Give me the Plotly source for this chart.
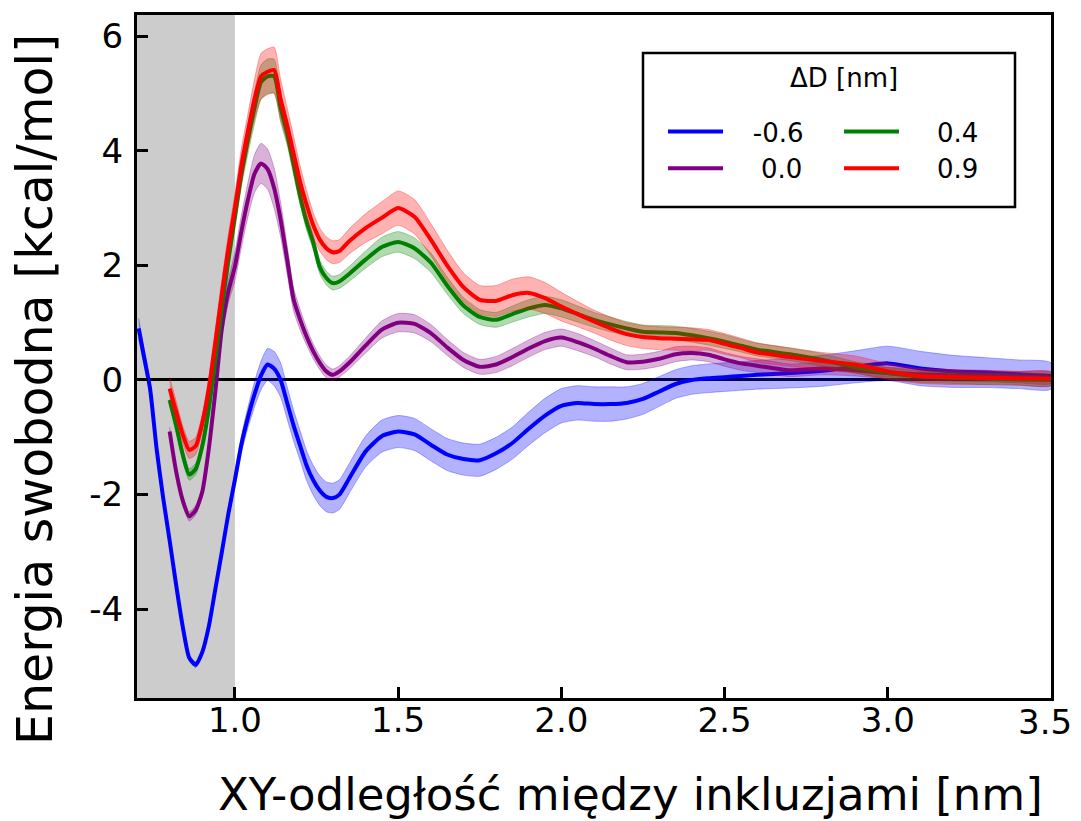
import plotly.graph_objects as go

# ---------------- data ----------------
X = [0.80, 0.82, 0.84, 0.86, 0.88, 0.90,
     0.92, 0.94, 0.96, 0.98, 1.00,
     1.02, 1.04, 1.06, 1.08, 1.10, 1.12,
     1.14, 1.16, 1.18, 1.20, 1.22, 1.24, 1.26,
     1.28, 1.30, 1.32, 1.35,
     1.40, 1.45, 1.50, 1.55, 1.60, 1.65,
     1.70, 1.75, 1.80, 1.85, 1.90, 1.95, 2.00,
     2.05, 2.10, 2.15, 2.20, 2.25, 2.30, 2.35, 2.40, 2.45, 2.50,
     2.55, 2.60, 2.70, 2.80, 2.90, 3.00, 3.10, 3.20, 3.30, 3.40, 3.50]

# extra leading points of the -0.6 series (it starts earlier)
BLUE_LEAD_X = [0.705, 0.72, 0.74, 0.76, 0.78]
BLUE_LEAD_Y = [0.90, 0.45, -0.15, -1.20, -2.05]
BLUE_LEAD_ERR = [0.18, 0.15, 0.12, 0.10, 0.08]

Y_M06 = [-2.80, -3.58, -4.30, -4.85, -4.97, -4.75,
         -4.30, -3.65, -3.00, -2.33, -1.74,
         -1.12, -0.65, -0.25, 0.08, 0.27, 0.20,
         0.00, -0.40, -0.80, -1.15, -1.50, -1.75, -1.93,
         -2.04, -2.06, -2.00, -1.72,
         -1.25, -0.98, -0.90, -0.95, -1.13, -1.30,
         -1.38, -1.40, -1.28, -1.10, -0.85, -0.62, -0.45,
         -0.40, -0.42, -0.42, -0.40, -0.33, -0.20, -0.07, 0.00, 0.03, 0.05,
         0.07, 0.09, 0.12, 0.16, 0.23, 0.29, 0.20, 0.15, 0.13, 0.10, 0.07]
ERR_M06 = [0.06, 0.05, 0.05, 0.05, 0.05, 0.05,
           0.05, 0.06, 0.08, 0.10, 0.12,
           0.15, 0.18, 0.22, 0.25, 0.28, 0.30,
           0.30, 0.28, 0.27, 0.26, 0.26, 0.26, 0.26,
           0.26, 0.26, 0.26, 0.26,
           0.27, 0.28, 0.28, 0.28, 0.28, 0.28,
           0.28, 0.28, 0.28, 0.28, 0.29, 0.30, 0.30,
           0.30, 0.30, 0.30, 0.28, 0.27, 0.26, 0.25, 0.25, 0.25, 0.25,
           0.25, 0.25, 0.26, 0.27, 0.28, 0.30, 0.30, 0.28, 0.26, 0.25, 0.23]

Y_00 = [-0.90, -1.60, -2.10, -2.38, -2.27, -1.95,
        -1.20, -0.20, 0.90, 1.55, 1.98,
        2.60, 3.15, 3.60, 3.78, 3.68, 3.35,
        2.80, 2.10, 1.40, 1.05, 0.75, 0.50, 0.30,
        0.15, 0.09, 0.15, 0.30,
        0.60, 0.88, 1.00, 0.98, 0.82, 0.57,
        0.35, 0.23, 0.27, 0.40, 0.55, 0.68, 0.74,
        0.66, 0.55, 0.42, 0.31, 0.32, 0.37, 0.45, 0.47, 0.44, 0.36,
        0.29, 0.25, 0.17, 0.20, 0.17, 0.12, 0.10, 0.08, 0.07, 0.05, 0.04]
ERR_00 = [0.08, 0.08, 0.08, 0.08, 0.08, 0.08,
          0.10, 0.12, 0.15, 0.20, 0.25,
          0.28, 0.30, 0.33, 0.35, 0.35, 0.35,
          0.30, 0.25, 0.20, 0.18, 0.15, 0.13, 0.12,
          0.11, 0.10, 0.10, 0.11,
          0.13, 0.15, 0.16, 0.16, 0.15, 0.14,
          0.13, 0.13, 0.14, 0.15, 0.15, 0.15, 0.15,
          0.15, 0.14, 0.14, 0.13, 0.13, 0.13, 0.13, 0.12, 0.12, 0.12,
          0.12, 0.12, 0.11, 0.11, 0.10, 0.10, 0.10, 0.10, 0.10, 0.10, 0.10]

Y_04 = [-0.35, -0.80, -1.30, -1.65, -1.55, -1.15,
        -0.50, 0.35, 1.25, 2.10, 2.85,
        3.60, 4.20, 4.75, 5.20, 5.30, 5.30,
        4.75, 4.30, 3.75, 3.20, 2.75, 2.40, 1.97,
        1.78, 1.69, 1.72, 1.85,
        2.10, 2.32, 2.41, 2.30, 2.05, 1.65,
        1.30, 1.10, 1.05, 1.15, 1.25, 1.31, 1.25,
        1.15, 1.05, 0.97, 0.90, 0.84, 0.83, 0.82, 0.78, 0.73, 0.67,
        0.60, 0.53, 0.45, 0.35, 0.22, 0.12, 0.06, 0.04, 0.02, 0.01, 0.00]
ERR_04 = [0.10, 0.10, 0.10, 0.10, 0.10, 0.10,
          0.12, 0.15, 0.15, 0.18, 0.20,
          0.22, 0.25, 0.28, 0.30, 0.30, 0.30,
          0.25, 0.20, 0.18, 0.15, 0.14, 0.13, 0.12,
          0.12, 0.12, 0.12, 0.13,
          0.15, 0.17, 0.18, 0.18, 0.17, 0.15,
          0.14, 0.13, 0.13, 0.14, 0.15, 0.15, 0.15,
          0.14, 0.13, 0.13, 0.12, 0.12, 0.12, 0.12, 0.12, 0.12, 0.12,
          0.11, 0.11, 0.11, 0.11, 0.10, 0.10, 0.10, 0.10, 0.10, 0.10, 0.10]

Y_09 = [-0.15, -0.55, -0.95, -1.22, -1.15, -0.75,
        -0.15, 0.65, 1.50, 2.30, 3.00,
        3.75, 4.35, 4.90, 5.30, 5.38, 5.41,
        4.90, 4.45, 3.95, 3.45, 3.05, 2.70, 2.45,
        2.30, 2.23, 2.25, 2.42,
        2.65, 2.83, 3.00, 2.85, 2.45, 2.00,
        1.62, 1.40, 1.38, 1.48, 1.52, 1.43, 1.28,
        1.15, 1.02, 0.90, 0.80, 0.75, 0.73, 0.72, 0.71, 0.70, 0.63,
        0.56, 0.48, 0.40, 0.33, 0.27, 0.15, 0.07, 0.05, 0.04, 0.03, 0.02]
ERR_09 = [0.20, 0.18, 0.15, 0.15, 0.15, 0.15,
          0.20, 0.25, 0.25, 0.25, 0.25,
          0.30, 0.30, 0.35, 0.40, 0.40, 0.40,
          0.35, 0.30, 0.30, 0.28, 0.25, 0.22, 0.20,
          0.20, 0.20, 0.20, 0.22,
          0.25, 0.28, 0.30, 0.30, 0.28, 0.27,
          0.25, 0.25, 0.27, 0.28, 0.28, 0.27, 0.25,
          0.22, 0.20, 0.20, 0.20, 0.20, 0.20, 0.20, 0.20, 0.18, 0.18,
          0.17, 0.17, 0.16, 0.15, 0.15, 0.14, 0.13, 0.13, 0.12, 0.12, 0.12]

LABELS = ["-0.6", "0.0", "0.4", "0.9"]
LEGEND_PAD = [3, 4, 4, 4]   # leading spaces used in legend labels
COLORS = ["#0000ff", "#800080", "#008000", "#ff0000"]
BANDS = ["rgba(0,0,255,0.3)", "rgba(128,0,128,0.3)",
         "rgba(0,128,0,0.3)", "rgba(255,0,0,0.3)"]
LEGEND_IDS = ["legend", "legend", "legend2", "legend2"]

X_TICKS = [1.0, 1.5, 2.0, 2.5, 3.0, 3.5]
X_TICK_TEXT = ["1.0", "1.5", "2.0", "2.5", "3.0", "3.5"]
Y_TICKS = [-4, -2, 0, 2, 4, 6]
Y_TICK_TEXT = ["-4", "-2", "0", "2", "4", "6"]
X_RANGE = [0.7, 3.5]
Y_RANGE = [-5.55, 6.37]
SHADE_RANGE = [0.7, 1.0]

X_TITLE = "XY-odległość między inkluzjami [nm]"
Y_TITLE = "Energia swobodna [kcal/mol]"
LEGEND_TITLE = "ΔD [nm]"

# ---------------- build ----------------
series_x = [BLUE_LEAD_X + X, X, X, X]
series_y = [BLUE_LEAD_Y + Y_M06, Y_00, Y_04, Y_09]
series_e = [BLUE_LEAD_ERR + ERR_M06, ERR_00, ERR_04, ERR_09]
for a, b, c in zip(series_x, series_y, series_e):
    assert len(a) == len(b) == len(c)

FONT = "DejaVu Sans"
TICK_SIZE = 34
fig = go.Figure()

for xs, ys, es, lab, col, band, lg, pad in zip(series_x, series_y, series_e,
                                              LABELS, COLORS, BANDS,
                                              LEGEND_IDS, LEGEND_PAD):
    upper = [y + e for y, e in zip(ys, es)]
    lower = [y - e for y, e in zip(ys, es)]
    fig.add_trace(go.Scatter(
        x=xs + xs[::-1], y=upper + lower[::-1],
        fill="toself", fillcolor=band,
        line=dict(color=band, width=1, shape="spline", smoothing=0.6),
        mode="lines", hoverinfo="skip", showlegend=False))
    fig.add_trace(go.Scatter(
        x=xs, y=ys, mode="lines",
        line=dict(color=col, width=4, shape="spline", smoothing=0.6),
        name="\u00a0" * pad + lab, legend=lg))

W, H = 1073, 821
L, R, T, B = 137, 22, 15, 123
PW, PH = W - L - R, H - T - B


def px(xp):
    return (xp - L) / PW


def py(yp):
    return (H - B - yp) / PH


axis_common = dict(
    showgrid=False, ticks="inside", ticklen=11, tickwidth=3,
    tickcolor="black", showline=True, linewidth=3, linecolor="black",
    mirror=True, tickfont=dict(family=FONT, size=TICK_SIZE, color="black"),
)

# The last x tick label sits at the right edge of the page; plotly hides a
# tick label that would overflow, so it is written as an annotation that is
# kept inside the page.
last_tick = dict(text=X_TICK_TEXT[-1], xref="x", yref="paper",
                 x=X_TICKS[-1], y=0, xanchor="center", yanchor="middle",
                 xshift=-6, yshift=-24, showarrow=False,
                 font=dict(family=FONT, size=TICK_SIZE, color="black"))

fig.update_layout(
    width=W, height=H,
    margin=dict(l=L, r=R, t=T, b=B, pad=0),
    paper_bgcolor="white", plot_bgcolor="white",
    font=dict(family=FONT, color="black"),
    xaxis=dict(range=X_RANGE, tickmode="array", tickvals=X_TICKS,
               ticktext=X_TICK_TEXT, zeroline=False,
               ticklabelstandoff=-10, **axis_common),
    yaxis=dict(range=Y_RANGE, tickmode="array", tickvals=Y_TICKS,
               ticktext=Y_TICK_TEXT, zeroline=True, zerolinecolor="black",
               zerolinewidth=3, ticklabelstandoff=4, **axis_common),
    legend=dict(x=px(663), y=py(108), xanchor="left", yanchor="top",
                orientation="v", bgcolor="rgba(0,0,0,0)", borderwidth=0,
                itemwidth=55, tracegroupgap=0,
                font=dict(family=FONT, size=26, color="black")),
    legend2=dict(x=px(839), y=py(108), xanchor="left", yanchor="top",
                 orientation="v", bgcolor="rgba(0,0,0,0)", borderwidth=0,
                 itemwidth=55, tracegroupgap=0,
                 font=dict(family=FONT, size=26, color="black")),
    shapes=[
        dict(type="rect", xref="x", yref="paper", x0=SHADE_RANGE[0],
             x1=SHADE_RANGE[1], y0=0, y1=1, fillcolor="#cccccc",
             line=dict(width=0), layer="below"),
        dict(type="rect", xref="paper", yref="paper", x0=px(643), x1=px(1015),
             y0=py(207), y1=py(53), fillcolor="white",
             line=dict(color="black", width=2.5), layer="below"),
    ],
    annotations=[
        dict(text=X_TITLE, xref="paper", yref="paper", x=px(630), y=py(794),
             xanchor="center", yanchor="middle", showarrow=False,
             font=dict(family=FONT, size=45, color="black")),
        dict(text=Y_TITLE, xref="paper", yref="paper", x=px(35), y=py(390),
             xanchor="center", yanchor="middle", showarrow=False,
             textangle=-90, font=dict(family=FONT, size=49, color="black")),
        dict(text=LEGEND_TITLE, xref="paper", yref="paper", x=px(844), y=py(78),
             xanchor="center", yanchor="middle", showarrow=False,
             font=dict(family=FONT, size=26, color="black")),
        last_tick,
    ],
)

fig.write_html("out.html")
